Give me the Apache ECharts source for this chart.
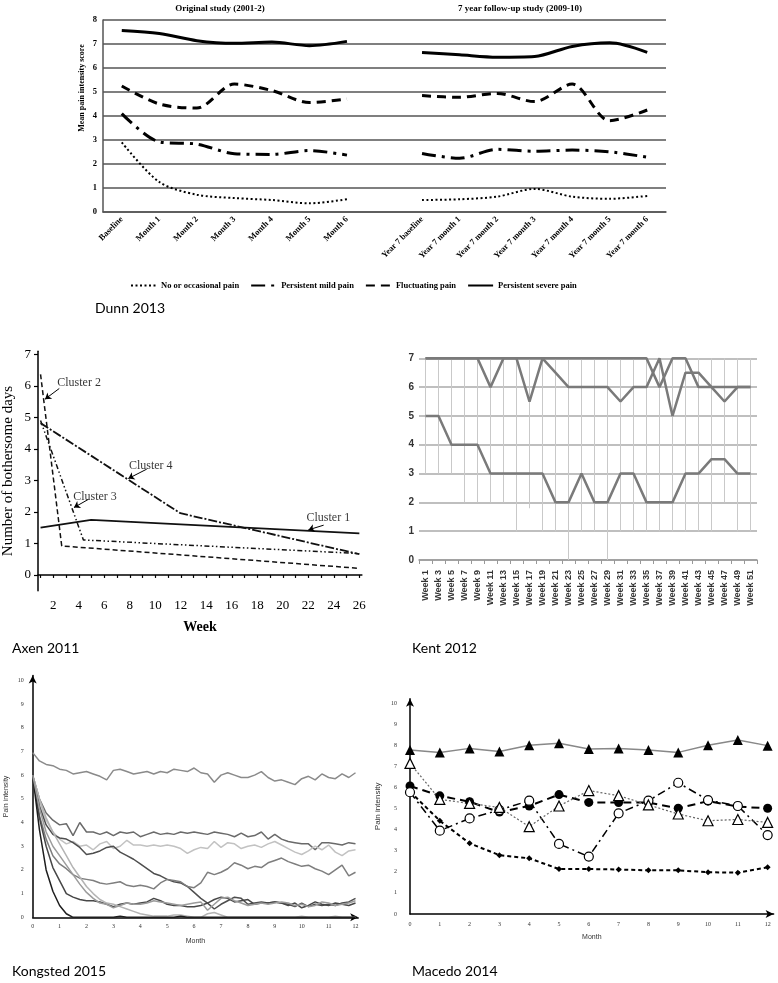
<!DOCTYPE html>
<html>
<head>
<meta charset="utf-8">
<script src="https://cdn.jsdelivr.net/npm/echarts@6/dist/echarts.min.js"></script>
<style>
html,body{margin:0;padding:0;background:#fff}
#main{width:778px;height:983px}
</style>
</head>
<body>
<div id="main"></div>
<script>
var SERIF = '"Liberation Serif", "Times New Roman", serif';
var SANS = '"Liberation Sans", Arial, sans-serif';
var CAP = 'Lato, "Open Sans", sans-serif';

// Dunn 2013
var dunnCats = ['Baseline','Month 1','Month 2','Month 3','Month 4','Month 5','Month 6','',
  'Year 7 baseline','Year 7 month 1','Year 7 month 2','Year 7 month 3','Year 7 month 4','Year 7 month 5','Year 7 month 6'];
var dunnNone   = [2.9, 1.25, 0.72, 0.58, 0.5, 0.36, 0.53, null, 0.5, 0.53, 0.64, 0.96, 0.64, 0.55, 0.67];
var dunnMild   = [4.1, 2.92, 2.83, 2.43, 2.4, 2.56, 2.37, null, 2.44, 2.24, 2.61, 2.53, 2.58, 2.51, 2.28];
var dunnFluct  = [5.25, 4.5, 4.33, 5.33, 5.06, 4.56, 4.71, null, 4.85, 4.78, 4.94, 4.6, 5.33, 3.8, 4.25];
var dunnSevere = [7.56, 7.44, 7.14, 7.03, 7.08, 6.93, 7.11, null, 6.65, 6.55, 6.45, 6.48, 6.9, 7.05, 6.65];

// Axen 2011
var axenC1 = [[1, 1.5], [4.97, 1.75], [26, 1.32]];
var axenC2 = [[1, 6.37], [2.66, 0.92], [26, 0.21]];
var axenC3 = [[1, 4.9], [4.36, 1.11], [26, 0.68]];
var axenC4 = [[1, 4.82], [11.96, 1.96], [26, 0.66]];
var axenWeekTicks = [1,2,3,4,5,6,7,8,9,10,11,12,13,14,15,16,17,18,19,20,21,22,23,24,25,26];
var axenWeekLabels = [2,4,6,8,10,12,14,16,18,20,22,24,26];
var axenDayLabels = [0,1,2,3,4,5,6,7];

// Kent 2012
var kentWeeks = ['Week 1','Week 3','Week 5','Week 7','Week 9','Week 11','Week 13','Week 15','Week 17',
  'Week 19','Week 21','Week 23','Week 25','Week 27','Week 29','Week 31','Week 33','Week 35','Week 37',
  'Week 39','Week 41','Week 43','Week 45','Week 47','Week 49','Week 51'];
var kentLow  = [3,3,3,2,2,2,2,1,1.8,1,1,0,1,1,0,1,1,1,1,1,1,1,1,2,1,1];
var kentHigh = [7,7,7,7,7,7,7,7,7,7,7,7,7,7,7,7,7,7,7,7,7,7,7,7,7,7];
var kentA = [5,5,4,4,4,3,3,3,3,3,2,2,3,2,2,3,3,2,2,2,3,3,3.5,3.5,3,3];
var kentB = [7,7,7,7,7,6,7,7,5.5,7,6.5,6,6,6,6,5.5,6,6,7,5,6.5,6.5,6,5.5,6,6];
var kentC = [7,7,7,7,7,7,7,7,7,7,7,7,7,7,7,7,7,7,6,7,7,6,6,6,6,6];

// Kongsted 2015 (values every quarter month)
var kongMonths = [0,0.25,0.5,0.75,1,1.25,1.5,1.75,2,2.25,2.5,2.75,3,3.25,3.5,3.75,4,4.25,4.5,4.75,
  5,5.25,5.5,5.75,6,6.25,6.5,6.75,7,7.25,7.5,7.75,8,8.25,8.5,8.75,9,9.25,9.5,9.75,
  10,10.25,10.5,10.75,11,11.25,11.5,11.75,12];
var kongL1 = [6.95,6.6,6.45,6.4, 6.25,6.2,6.05,6.1, 6.15,6.05,5.95,5.8, 6.2,6.25,6.15,6.05, 6.1,6.15,6.05,6.15,
  6.1,6.25,6.2,6.15, 6.3,6.1,6.05,5.7, 6.0,6.1,6.0,5.9, 5.9,6.0,6.15,5.9, 5.75,5.8,5.7,5.6,
  5.85,5.95,5.8,6.05, 5.9,5.85,6.05,5.9, 6.1];
var kongL2 = [6.0,5.0,4.4,4.1, 3.9,3.95,3.45,4.0, 3.6,3.6,3.5,3.6, 3.45,3.6,3.55,3.6, 3.4,3.5,3.6,3.5,
  3.55,3.5,3.6,3.55, 3.6,3.55,3.5,3.6, 3.55,3.5,3.4,3.55, 3.4,3.45,3.6,3.3, 3.5,3.3,3.2,3.15,
  3.1,3.1,2.85,3.15, 3.15,3.1,3.05,3.15, 3.1];
var kongL3 = [6.0,4.9,4.1,3.6, 3.3,3.1,3.2,3.0, 3.05,2.85,3.1,3.2, 2.9,3.0,3.25,3.05, 3.05,3.0,3.05,3.0,
  3.05,3.0,2.9,2.7, 2.85,2.95,2.9,3.2, 2.95,3.15,3.1,2.9, 3.0,3.05,2.95,3.1, 3.2,3.05,2.9,2.75,
  2.65,2.8,3.0,2.85, 3.05,2.75,2.6,2.8, 2.85];
var kongL4 = [6.0,4.7,3.9,3.5, 3.35,3.3,3.15,2.95, 2.65,2.7,2.8,2.95, 3.0,2.75,2.6,2.45, 2.25,2.05,1.85,1.75,
  1.6,1.5,1.45,1.3, 1.05,0.8,0.6,0.35, 0.55,0.7,0.85,0.8, 0.55,0.6,0.65,0.6, 0.65,0.6,0.55,0.45,
  0.6,0.45,0.55,0.5, 0.55,0.5,0.6,0.65, 0.8];
var kongL5 = [6.0,4.3,3.3,2.6, 2.25,2.05,1.8,1.65, 1.6,1.55,1.45,1.4, 1.45,1.5,1.35,1.3, 1.35,1.3,1.2,1.45,
  1.6,1.55,1.5,1.3, 1.25,1.45,1.9,1.8, 1.9,2.05,2.3,2.2, 2.05,2.15,2.1,2.3, 2.4,2.5,2.35,2.25,
  2.15,2.2,2.05,1.95, 1.8,2.0,2.2,1.75, 1.9];
var kongL6 = [6.0,4.2,3.0,2.1, 1.55,1.0,0.85,0.75, 0.7,0.7,0.65,0.55, 0.45,0.55,0.6,0.55, 0.6,0.65,0.8,0.7,
  0.55,0.5,0.5,0.45, 0.45,0.5,0.6,0.75, 0.85,0.8,0.65,0.7, 0.75,0.55,0.6,0.6, 0.65,0.6,0.5,0.6,
  0.4,0.5,0.65,0.55, 0.5,0.6,0.55,0.5, 0.6];
var kongL7 = [6.0,5.0,4.2,3.6, 3.1,2.6,2.1,1.7, 1.3,1.0,0.75,0.6, 0.55,0.45,0.35,0.25, 0.15,0.1,0.05,0.05,
  0.05,0.1,0.1,0.05, 0,0,0.15,0.2, 0.1,0,0,0, 0,0,0,0, 0,0,0,0,
  0.05,0,0,0, 0,0.05,0,0, 0];
var kongL8 = [6.0,3.7,2.0,1.1, 0.5,0.15,0,0, 0,0,0,0, 0,0.05,0,0, 0,0,0,0,
  0,0,0.05,0, 0,0,0,0, 0,0,0,0, 0,0,0,0, 0,0,0,0,
  0,0,0,0, 0,0,0,0, 0];
var kongL9 = [6.0,4.6,3.6,3.0, 2.6,2.2,1.8,1.4, 1.05,0.8,0.6,0.55, 0.4,0.5,0.6,0.55, 0.55,0.6,0.7,0.65,
  0.6,0.55,0.5,0.55, 0.6,0.65,0.3,0.55, 0.8,0.85,0.7,0.6, 0.5,0.55,0.6,0.55, 0.6,0.65,0.6,0.5,
  0.55,0.45,0.5,0.65, 0.6,0.5,0.55,0.6, 0.7];
var kongLabels = [0,1,2,3,4,5,6,7,8,9,10,11,12];
var kongYLabels = [0,1,2,3,4,5,6,7,8,9,10];

// Macedo 2014
var macMonths = [0,1,2,3,4,5,6,7,8,9,10,11,12];
var macFilledTri = [7.77,7.65,7.85,7.7,8.0,8.09,7.82,7.84,7.77,7.66,8.0,8.25,7.98];
var macDiamond   = [5.8,4.42,3.35,2.79,2.64,2.13,2.13,2.11,2.07,2.07,1.98,1.96,2.21];
var macFilledCir = [6.07,5.6,5.32,4.83,5.12,5.66,5.29,5.28,5.28,5.01,5.35,5.09,5.01];
var macOpenCir   = [5.77,3.95,4.53,4.93,5.37,3.32,2.72,4.77,5.37,6.22,5.4,5.12,3.74];
var macOpenTri   = [7.14,5.43,5.24,5.05,4.14,5.12,5.85,5.61,5.17,4.74,4.42,4.48,4.34];

function pairs(xs, ys) {
  return xs.map(function (x, i) { return [x, ys[i]]; });
}

var chart = echarts.init(document.getElementById('main'), null, {renderer: 'canvas'});

var arrowAxis = {
  show: true,
  symbol: ['none', 'arrow'],
  symbolSize: [6, 8],
  lineStyle: {color: '#000', width: 1.5}
};
var tinyLabel = {fontSize: 6, color: '#333', fontFamily: SERIF};

var kongColors = ['#8a8a8a','#6a6a6a','#c2c2c2','#4e4e4e','#7e7e7e','#474747','#b4b4b4','#1e1e1e','#9c9c9c'];
var kongLines = [kongL1, kongL2, kongL3, kongL4, kongL5, kongL6, kongL7, kongL8, kongL9];

var series = [
  // Dunn
  {name: 'No or occasional pain', type: 'line', xAxisIndex: 0, yAxisIndex: 0, data: dunnNone,
   smooth: 0.3, symbol: 'none', itemStyle: {color: '#000'}, lineStyle: {color: '#000', width: 2, type: [2, 2.5]}},
  {name: 'Persistent mild pain', type: 'line', xAxisIndex: 0, yAxisIndex: 0, data: dunnMild,
   smooth: 0.3, symbol: 'none', itemStyle: {color: '#000'}, lineStyle: {color: '#000', width: 3, type: [14, 6, 3, 6]}},
  {name: 'Fluctuating pain', type: 'line', xAxisIndex: 0, yAxisIndex: 0, data: dunnFluct,
   smooth: 0.3, symbol: 'none', itemStyle: {color: '#000'}, lineStyle: {color: '#000', width: 3, type: [9, 6]}},
  {name: 'Persistent severe pain', type: 'line', xAxisIndex: 0, yAxisIndex: 0, data: dunnSevere,
   smooth: 0.3, symbol: 'none', itemStyle: {color: '#000'}, lineStyle: {color: '#000', width: 3}},

  // Axen
  {name: 'Cluster 1', type: 'line', xAxisIndex: 1, yAxisIndex: 1, data: axenC1, symbol: 'none',
   lineStyle: {color: '#111', width: 1.8}},
  {name: 'Cluster 2', type: 'line', xAxisIndex: 1, yAxisIndex: 1, data: axenC2, symbol: 'none',
   lineStyle: {color: '#111', width: 1.5, type: [5, 3]}},
  {name: 'Cluster 3', type: 'line', xAxisIndex: 1, yAxisIndex: 1, data: axenC3, symbol: 'none',
   lineStyle: {color: '#111', width: 1.5, type: [5, 2.5, 1.5, 2.5, 1.5, 2.5]}},
  {name: 'Cluster 4', type: 'line', xAxisIndex: 1, yAxisIndex: 1, data: axenC4, symbol: 'none',
   lineStyle: {color: '#111', width: 1.8, type: [9, 2, 2, 2]}},
  {name: 'axenNotes', type: 'scatter', xAxisIndex: 1, yAxisIndex: 1, symbolSize: 1, silent: true,
   itemStyle: {color: 'rgba(0,0,0,0)'},
   label: {show: true, position: 'inside', formatter: '{b}', fontFamily: SERIF, fontSize: 12, color: '#000'},
   data: [
     {name: 'Cluster 2', value: [4.02, 6.1]},
     {name: 'Cluster 4', value: [9.64, 3.46]},
     {name: 'Cluster 3', value: [5.27, 2.49]},
     {name: 'Cluster 1', value: [23.57, 1.81]}
   ],
   markLine: {
     silent: true, symbol: ['none', 'arrow'], symbolSize: 6,
     label: {show: false},
     lineStyle: {color: '#000', width: 1, type: 'solid'},
     data: [
       [{coord: [2.47, 5.92]}, {coord: [1.35, 5.58]}],
       [{coord: [9.33, 3.36]}, {coord: [7.88, 3.06]}],
       [{coord: [4.75, 2.4]}, {coord: [3.62, 2.14]}],
       [{coord: [23.2, 1.58]}, {coord: [22.0, 1.43]}]
     ]
   }},

  // Kent: range lines drawn as thin stacked bars
  {name: 'kentBase', type: 'bar', xAxisIndex: 2, yAxisIndex: 2, stack: 'kent', data: kentLow,
   barWidth: 1, silent: true, itemStyle: {color: 'rgba(0,0,0,0)'}},
  {name: 'kentRange', type: 'bar', xAxisIndex: 2, yAxisIndex: 2, stack: 'kent', barWidth: 1, silent: true,
   data: kentHigh.map(function (h, i) { return h - kentLow[i]; }),
   itemStyle: {color: '#c9c9c9'}},
  {name: 'kentA', type: 'line', xAxisIndex: 2, yAxisIndex: 2, data: kentA, symbol: 'none',
   lineStyle: {color: '#7a7a7a', width: 2.5}},
  {name: 'kentB', type: 'line', xAxisIndex: 2, yAxisIndex: 2, data: kentB, symbol: 'none',
   lineStyle: {color: '#7a7a7a', width: 2.5}},
  {name: 'kentC', type: 'line', xAxisIndex: 2, yAxisIndex: 2, data: kentC, symbol: 'none',
   lineStyle: {color: '#7a7a7a', width: 2.5}}
];

kongLines.forEach(function (arr, k) {
  series.push({name: 'kong' + (k + 1), type: 'line', xAxisIndex: 3, yAxisIndex: 3,
    data: pairs(kongMonths, arr), symbol: 'none',
    lineStyle: {color: kongColors[k], width: 1.5}});
});

series.push(
  {name: 'macFilledTri', type: 'line', xAxisIndex: 4, yAxisIndex: 4, data: pairs(macMonths, macFilledTri),
   symbol: 'triangle', symbolSize: 10, itemStyle: {color: '#000'},
   lineStyle: {color: '#888', width: 1.5}},
  {name: 'macDiamond', type: 'line', xAxisIndex: 4, yAxisIndex: 4, data: pairs(macMonths, macDiamond),
   symbol: 'diamond', symbolSize: 6, itemStyle: {color: '#000'},
   lineStyle: {color: '#000', width: 2, type: [4, 3]}},
  {name: 'macFilledCir', type: 'line', xAxisIndex: 4, yAxisIndex: 4, data: pairs(macMonths, macFilledCir),
   symbol: 'circle', symbolSize: 9, itemStyle: {color: '#000'},
   lineStyle: {color: '#000', width: 2, type: [8, 5]}},
  {name: 'macOpenCir', type: 'line', xAxisIndex: 4, yAxisIndex: 4, data: pairs(macMonths, macOpenCir),
   symbol: 'circle', symbolSize: 9, itemStyle: {color: '#fff', borderColor: '#000', borderWidth: 1.2},
   lineStyle: {color: '#000', width: 1.5, type: [8, 4, 2, 4]}},
  {name: 'macOpenTri', type: 'line', xAxisIndex: 4, yAxisIndex: 4, data: pairs(macMonths, macOpenTri),
   symbol: 'triangle', symbolSize: 10, itemStyle: {color: '#fff', borderColor: '#000', borderWidth: 1.2},
   lineStyle: {color: '#666', width: 1.2, type: [2, 2]}}
);

var option = {
  animation: false,
  backgroundColor: '#fff',
  grid: [
    {left: 103, top: 20, width: 563, height: 192},
    {left: 38, top: 351.3, width: 323.9, height: 239.4},
    {left: 419, top: 358.3, width: 338, height: 201.7},
    {left: 32.7, top: 675.6, width: 325.5, height: 241.7},
    {left: 410, top: 698.8, width: 363.6, height: 215.2}
  ],
  xAxis: [
    {type: 'category', gridIndex: 0, data: dunnCats,
     axisLine: {lineStyle: {color: '#555', width: 1.5}}, axisTick: {show: false},
     axisLabel: {interval: 0, rotate: 45, margin: 6, fontFamily: SERIF, fontWeight: 'bold', fontSize: 8.5, color: '#000'}},
    {type: 'value', gridIndex: 1, min: 0.8, max: 26.2,
     axisLine: {lineStyle: {color: '#000', width: 1.5}},
     axisTick: {show: true, customValues: axenWeekTicks, length: 3, lineStyle: {color: '#000', width: 1.2}},
     axisLabel: {customValues: axenWeekLabels, margin: 8, fontFamily: SERIF, fontSize: 13, color: '#000'},
     splitLine: {show: false},
     name: 'Week', nameLocation: 'middle', nameGap: 30,
     nameTextStyle: {fontFamily: SERIF, fontSize: 14, fontWeight: 'bold', color: '#000'}},
    {type: 'category', gridIndex: 2, data: kentWeeks,
     axisLine: {lineStyle: {color: '#999', width: 1.5}},
     axisTick: {show: true, length: 4, lineStyle: {color: '#999'}},
     axisLabel: {interval: 0, rotate: 90, margin: 10, fontFamily: SANS, fontWeight: 'bold', fontSize: 9, color: '#333'}},
    {type: 'value', gridIndex: 3, min: 0, max: 12.1,
     axisLine: arrowAxis, axisTick: {show: false}, splitLine: {show: false},
     axisLabel: Object.assign({customValues: kongLabels, margin: 6}, tinyLabel),
     name: 'Month', nameLocation: 'middle', nameGap: 20,
     nameTextStyle: {fontSize: 7, color: '#333', fontFamily: SANS}},
    {type: 'value', gridIndex: 4, min: 0, max: 12.2,
     axisLine: arrowAxis, axisTick: {show: false}, splitLine: {show: false},
     axisLabel: Object.assign({customValues: macMonths, margin: 7}, tinyLabel),
     name: 'Month', nameLocation: 'middle', nameGap: 20,
     nameTextStyle: {fontSize: 7, color: '#333', fontFamily: SANS}}
  ],
  yAxis: [
    {type: 'value', gridIndex: 0, min: 0, max: 8, interval: 1,
     axisLine: {show: true, lineStyle: {color: '#555', width: 1.5}}, axisTick: {show: false},
     splitLine: {lineStyle: {color: '#555', width: 1.5}},
     axisLabel: {margin: 6, fontFamily: SERIF, fontWeight: 'bold', fontSize: 8.5, color: '#000'}},
    {type: 'value', gridIndex: 1, min: -0.5, max: 7.1,
     axisLine: {show: true, lineStyle: {color: '#000', width: 1.5}},
     axisTick: {show: true, customValues: axenDayLabels, length: 4, lineStyle: {color: '#000', width: 1.2}},
     axisLabel: {customValues: axenDayLabels, margin: 7, fontFamily: SERIF, fontSize: 13, color: '#000'},
     splitLine: {show: false},
     name: 'Number of bothersome days', nameLocation: 'middle', nameGap: 22,
     nameTextStyle: {fontFamily: SERIF, fontSize: 15, color: '#000'}},
    {type: 'value', gridIndex: 2, min: 0, max: 7, interval: 1,
     axisLine: {show: false}, axisTick: {show: false},
     splitLine: {lineStyle: {color: '#aaa', width: 1.5}},
     axisLabel: {margin: 5, fontFamily: SANS, fontWeight: 'bold', fontSize: 10, color: '#333'}},
    {type: 'value', gridIndex: 3, min: 0, max: 10.2,
     axisLine: arrowAxis, axisTick: {show: false}, splitLine: {show: false},
     axisLabel: Object.assign({customValues: kongYLabels, margin: 9}, tinyLabel),
     name: 'Pain intensity', nameLocation: 'middle', nameGap: 23,
     nameTextStyle: {fontSize: 7, color: '#333', fontFamily: SANS}},
    {type: 'value', gridIndex: 4, min: 0, max: 10.2,
     axisLine: arrowAxis, axisTick: {show: false}, splitLine: {show: false},
     axisLabel: Object.assign({customValues: kongYLabels, margin: 13}, tinyLabel),
     name: 'Pain intensity', nameLocation: 'middle', nameGap: 28,
     nameTextStyle: {fontSize: 8, color: '#333', fontFamily: SANS}}
  ],
  legend: {
    data: ['No or occasional pain', 'Persistent mild pain', 'Fluctuating pain', 'Persistent severe pain'],
    left: 125, top: 276, itemWidth: 25, itemHeight: 8, itemGap: 11,
    itemStyle: {opacity: 0},
    textStyle: {fontFamily: SERIF, fontWeight: 'bold', fontSize: 8.5, color: '#000'}
  },
  graphic: [
    {type: 'text', x: 220, y: 4, style: {text: 'Original study (2001-2)', align: 'center', verticalAlign: 'top',
      font: 'bold 9px ' + SERIF, fill: '#000'}},
    {type: 'text', x: 520, y: 4, style: {text: '7 year follow-up study (2009-10)', align: 'center', verticalAlign: 'top',
      font: 'bold 9px ' + SERIF, fill: '#000'}},
    {type: 'text', x: 82, y: 88, rotation: Math.PI / 2,
     style: {text: 'Mean pain intensity score', align: 'center', verticalAlign: 'middle',
      font: 'bold 8px ' + SERIF, fill: '#000'}},
    {type: 'text', x: 95, y: 301, style: {text: 'Dunn 2013', font: '14px ' + CAP, fill: '#000', verticalAlign: 'top'}},
    {type: 'text', x: 12, y: 641, style: {text: 'Axen 2011', font: '14px ' + CAP, fill: '#000', verticalAlign: 'top'}},
    {type: 'text', x: 412, y: 641, style: {text: 'Kent 2012', font: '14px ' + CAP, fill: '#000', verticalAlign: 'top'}},
    {type: 'text', x: 12, y: 964, style: {text: 'Kongsted 2015', font: '14px ' + CAP, fill: '#000', verticalAlign: 'top'}},
    {type: 'text', x: 412, y: 964, style: {text: 'Macedo 2014', font: '14px ' + CAP, fill: '#000', verticalAlign: 'top'}}
  ],
  series: series
};

chart.setOption(option);
</script>
</body>
</html>
